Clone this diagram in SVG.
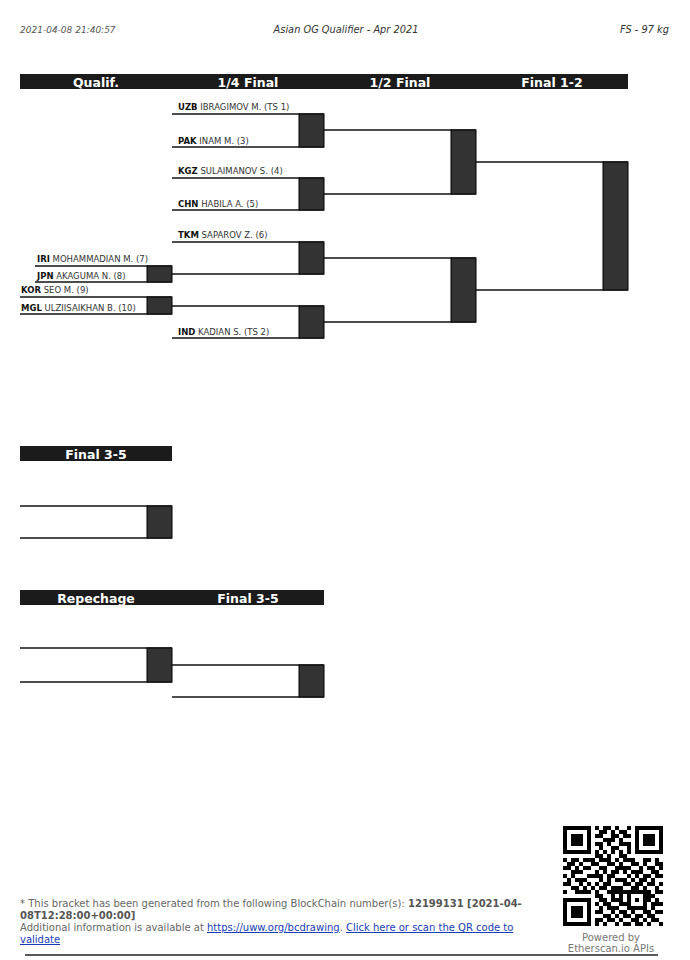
<svg xmlns="http://www.w3.org/2000/svg" width="690" height="960" viewBox="0 0 690 960">
<style>
.bg{fill:#ffffff}
.hdr{font-family:"DejaVu Sans","Liberation Sans",sans-serif;font-size:9px;font-style:italic;fill:#555}
.ttl{font-family:"DejaVu Sans","Liberation Sans",sans-serif;font-size:9.8px;font-style:italic;fill:#333}
.bar{fill:#1b1b1b}
.bart{font-family:"DejaVu Sans","Liberation Sans",sans-serif;font-size:12.5px;font-weight:bold;fill:#ffffff;text-anchor:middle}
.box{fill:#333333;stroke:#000;stroke-width:1}
.ln{stroke:#111;stroke-width:1.3;fill:none}
.nm{font-family:"DejaVu Sans","Liberation Sans",sans-serif;font-size:8.5px;fill:#333}
.cc{font-weight:bold;fill:#111}
.ft{font-family:"DejaVu Sans","Liberation Sans",sans-serif;font-size:10px;fill:#666}
.b{font-weight:bold;fill:#555}
.lk{fill:#1a3cb8;text-decoration:underline}
.pw{font-family:"DejaVu Sans","Liberation Sans",sans-serif;font-size:10px;fill:#777;text-anchor:middle}
</style>
<rect class="bg" x="0" y="0" width="690" height="960"/>

<g id="page-header">
<text class="hdr" x="20" y="33">2021-04-08 21:40:57</text>
<text class="ttl" x="346" y="33" text-anchor="middle">Asian OG Qualifier - Apr 2021</text>
<text class="ttl" x="669" y="33" text-anchor="end">FS - 97 kg</text>
</g>

<g id="round-headers">
<rect class="bar" x="20" y="74" width="608" height="15"/>
<text class="bart" x="96" y="86.5">Qualif.</text>
<text class="bart" x="248" y="86.5">1/4 Final</text>
<text class="bart" x="400" y="86.5">1/2 Final</text>
<text class="bart" x="552" y="86.5">Final 1-2</text>
</g>

<g id="connectors">
<line class="ln" x1="172" y1="274" x2="324" y2="274"/>
<line class="ln" x1="172" y1="306" x2="324" y2="306"/>
<line class="ln" x1="324" y1="130" x2="476" y2="130"/>
<line class="ln" x1="324" y1="194" x2="476" y2="194"/>
<line class="ln" x1="324" y1="258" x2="476" y2="258"/>
<line class="ln" x1="324" y1="322" x2="476" y2="322"/>
<line class="ln" x1="476" y1="162" x2="628" y2="162"/>
<line class="ln" x1="476" y1="290" x2="628" y2="290"/>
<line class="ln" x1="172" y1="665" x2="324" y2="665"/>
</g>

<g id="q1">
<line class="ln" x1="35" y1="266" x2="172" y2="266"/>
<line class="ln" x1="35" y1="282" x2="172" y2="282"/>
<rect class="box" x="147" y="266" width="25" height="16"/>
<text class="nm" x="37" y="262"><tspan class="cc">IRI</tspan> MOHAMMADIAN M. (7)</text>
<text class="nm" x="37" y="279"><tspan class="cc">JPN</tspan> AKAGUMA N. (8)</text>
</g>

<g id="q2">
<line class="ln" x1="20" y1="297" x2="172" y2="297"/>
<line class="ln" x1="20" y1="314" x2="172" y2="314"/>
<rect class="box" x="147" y="297" width="25" height="17"/>
<text class="nm" x="21" y="293"><tspan class="cc">KOR</tspan> SEO M. (9)</text>
<text class="nm" x="21" y="311"><tspan class="cc">MGL</tspan> ULZIISAIKHAN B. (10)</text>
</g>

<g id="qf1">
<line class="ln" x1="172" y1="114" x2="324" y2="114"/>
<line class="ln" x1="172" y1="147" x2="324" y2="147"/>
<rect class="box" x="299" y="114" width="25" height="33"/>
<text class="nm" x="178" y="110"><tspan class="cc">UZB</tspan> IBRAGIMOV M. (TS 1)</text>
<text class="nm" x="178" y="144"><tspan class="cc">PAK</tspan> INAM M. (3)</text>
</g>

<g id="qf2">
<line class="ln" x1="172" y1="178" x2="324" y2="178"/>
<line class="ln" x1="172" y1="210" x2="324" y2="210"/>
<rect class="box" x="299" y="178" width="25" height="32"/>
<text class="nm" x="178" y="174"><tspan class="cc">KGZ</tspan> SULAIMANOV S. (4)</text>
<text class="nm" x="178" y="207"><tspan class="cc">CHN</tspan> HABILA A. (5)</text>
</g>

<g id="qf3">
<line class="ln" x1="172" y1="242" x2="324" y2="242"/>
<rect class="box" x="299" y="242" width="25" height="32"/>
<text class="nm" x="178" y="238"><tspan class="cc">TKM</tspan> SAPAROV Z. (6)</text>
</g>

<g id="qf4">
<line class="ln" x1="172" y1="338" x2="324" y2="338"/>
<rect class="box" x="299" y="306" width="25" height="32"/>
<text class="nm" x="178" y="335"><tspan class="cc">IND</tspan> KADIAN S. (TS 2)</text>
</g>

<g id="sf1">
<rect class="box" x="451" y="130" width="25" height="64"/>
</g>
<g id="sf2">
<rect class="box" x="451" y="258" width="25" height="64"/>
</g>
<g id="final12">
<rect class="box" x="603" y="162" width="25" height="128"/>
</g>

<g id="final35-header">
<rect class="bar" x="20" y="446" width="152" height="15"/>
<text class="bart" x="96" y="458.5">Final 3-5</text>
</g>
<g id="final35-a">
<line class="ln" x1="20" y1="506" x2="172" y2="506"/>
<line class="ln" x1="20" y1="538" x2="172" y2="538"/>
<rect class="box" x="147" y="506" width="25" height="32"/>
</g>

<g id="repechage-header">
<rect class="bar" x="20" y="590" width="304" height="15"/>
<text class="bart" x="96" y="602.5">Repechage</text>
<text class="bart" x="248" y="602.5">Final 3-5</text>
</g>
<g id="repechage">
<line class="ln" x1="20" y1="648" x2="172" y2="648"/>
<line class="ln" x1="20" y1="682" x2="172" y2="682"/>
<rect class="box" x="147" y="648" width="25" height="34"/>
</g>
<g id="final35-b">
<line class="ln" x1="172" y1="697" x2="324" y2="697"/>
<rect class="box" x="299" y="665" width="25" height="32"/>
</g>

<g id="footer">
<text class="ft" x="20" y="907">* This bracket has been generated from the following BlockChain number(s): <tspan class="b">12199131 [2021-04-</tspan></text>
<text class="ft" x="20" y="919"><tspan class="b">08T12:28:00+00:00]</tspan></text>
<text class="ft" x="20" y="931">Additional information is available at <tspan class="lk">https://uww.org/bcdrawing</tspan>. <tspan class="lk">Click here or scan the QR code to</tspan></text>
<text class="ft" x="20" y="943"><tspan class="lk">validate</tspan></text>
<line x1="25" y1="955" x2="658" y2="955" stroke="#222" stroke-width="1.5"/>
<text class="pw" x="611" y="941">Powered by</text>
<text class="pw" x="611" y="952">Etherscan.io APIs</text>
</g>

<g id="qr" transform="translate(563,826) scale(4)" shape-rendering="crispEdges">
<path stroke="#000" stroke-width="1" fill="none" d="
M0 0.5h7M8 0.5h1M10 0.5h2M13 0.5h1M16 0.5h1M18 0.5h7
M0 1.5h1M6 1.5h1M9 1.5h2M12 1.5h1M14 1.5h2M18 1.5h1M24 1.5h1
M0 2.5h1M2 2.5h3M6 2.5h1M8 2.5h2M12 2.5h2M15 2.5h2M18 2.5h1M20 2.5h3M24 2.5h1
M0 3.5h1M2 3.5h3M6 3.5h1M10 3.5h3M14 3.5h1M18 3.5h1M20 3.5h3M24 3.5h1
M0 4.5h1M2 4.5h3M6 4.5h1M8 4.5h2M11 4.5h1M14 4.5h3M18 4.5h1M20 4.5h3M24 4.5h1
M0 5.5h1M6 5.5h1M9 5.5h1M12 5.5h2M16 5.5h1M18 5.5h1M24 5.5h1
M0 6.5h7M8 6.5h1M10 6.5h1M12 6.5h1M14 6.5h1M16 6.5h1M18 6.5h7
M8 7.5h2M11 7.5h1M14 7.5h2
M0 8.5h1M2 8.5h2M5 8.5h3M9 8.5h3M13 8.5h1M15 8.5h3M20 8.5h2M23 8.5h1
M1 9.5h2M4 9.5h1M7 9.5h2M11 9.5h2M14 9.5h1M17 9.5h2M20 9.5h1M23 9.5h2
M0 10.5h2M3 10.5h1M5 10.5h2M9 10.5h2M13 10.5h4M19 10.5h1M21 10.5h2M24 10.5h1
M2 11.5h3M8 11.5h1M10 11.5h1M12 11.5h2M15 11.5h1M17 11.5h3M22 11.5h2
M0 12.5h1M2 12.5h1M6 12.5h4M11 12.5h2M16 12.5h1M18 12.5h1M20 12.5h2M23 12.5h2
M1 13.5h1M3 13.5h3M9 13.5h1M11 13.5h1M13 13.5h3M17 13.5h1M19 13.5h2M22 13.5h1
M0 14.5h2M4 14.5h1M6 14.5h1M8 14.5h1M10 14.5h2M15 14.5h2M18 14.5h2M21 14.5h2M24 14.5h1
M2 15.5h2M5 15.5h1M7 15.5h1M9 15.5h2M12 15.5h3M17 15.5h2M20 15.5h1M23 15.5h1
M0 16.5h1M3 16.5h4M8 16.5h1M11 16.5h11M23 16.5h2
M8 17.5h2M12 17.5h1M14 17.5h1M16 17.5h1M20 17.5h3
M0 18.5h7M9 18.5h2M12 18.5h3M16 18.5h1M18 18.5h1M20 18.5h2M23 18.5h1
M0 19.5h1M6 19.5h1M8 19.5h1M10 19.5h2M14 19.5h3M20 19.5h1M22 19.5h3
M0 20.5h1M2 20.5h3M6 20.5h1M9 20.5h1M11 20.5h3M16 20.5h5M22 20.5h1
M0 21.5h1M2 21.5h3M6 21.5h1M8 21.5h2M12 21.5h1M14 21.5h2M17 21.5h1M20 21.5h2M23 21.5h2
M0 22.5h1M2 22.5h3M6 22.5h1M10 22.5h2M13 22.5h1M15 22.5h2M18 22.5h2M21 22.5h2
M0 23.5h1M6 23.5h1M8 23.5h2M11 23.5h2M14 23.5h1M17 23.5h2M20 23.5h1M22 23.5h2
M0 24.5h7M8 24.5h1M10 24.5h1M13 24.5h1M15 24.5h2M18 24.5h2M21 24.5h1M24 24.5h1"/>
</g>
</svg>
